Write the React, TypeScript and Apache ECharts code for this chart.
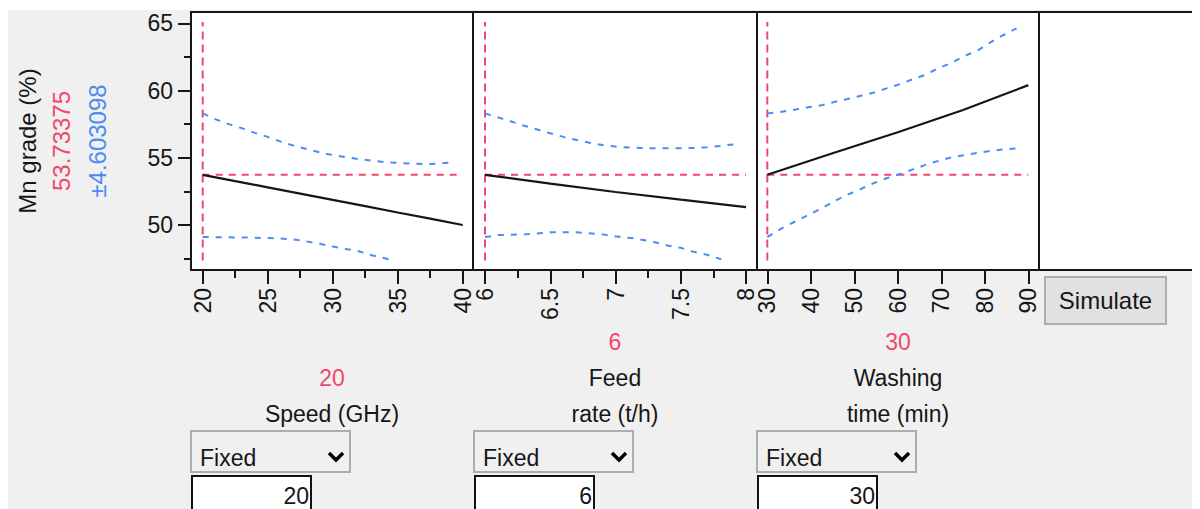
import React, { useEffect, useRef } from "react";
import * as echarts from "echarts";

const FONT = "'Liberation Sans', Arial, sans-serif";
const RED = "#f2476b";
const BLUE = "#4b8bf5";
const INK = "#161616";

// ---- texts ----
const yTitle = "Mn grade (%)";
const predictedText = "53.73375";
const ciText = "±4.603098";
const predicted = 53.73375;
const factorNames = [["Speed (GHz)"], ["Feed", "rate (t/h)"], ["Washing", "time (min)"]];
const currentValues = [20, 6, 30];
const modeLabel = "Fixed";
const buttonLabel = "Simulate";

// ---- y axis ticks ----
const yMajorTicks = [50, 55, 60, 65];
const yMinorTicks = [47.5, 52.5, 57.5, 62.5];

// ---- x axis ticks ----
const speedMajor = [20, 25, 30, 35, 40];
const speedMinor = [22.5, 27.5, 32.5, 37.5];
const feedMajor = [6, 6.5, 7, 7.5, 8];
const feedMinor = [6.25, 6.75, 7.25, 7.75];
const washMajor = [30, 40, 50, 60, 70, 80, 90];
const washMinor: number[] = [];

// ---- Speed profile ----
const speedX = [20, 22.5, 25, 27.5, 30, 32.5, 35, 37.5, 40];
const speedMean = [53.73, 53.26, 52.8, 52.33, 51.86, 51.4, 50.93, 50.47, 50.0];
const speedUpperX = [20, 21, 22, 23, 24, 25, 26, 27, 28, 29, 30, 31, 32, 33, 34, 35, 36, 37, 38, 39.3];
const speedUpper = [58.3, 57.85, 57.5, 57.2, 56.85, 56.55, 56.2, 55.9, 55.65, 55.4, 55.2, 55.05, 54.9, 54.78, 54.68, 54.62, 54.57, 54.53, 54.55, 54.65];
const speedLowerX = [20, 22, 24, 26, 27, 28, 29, 30, 31, 32, 33, 34.3];
const speedLower = [49.1, 49.08, 49.05, 49.0, 48.92, 48.78, 48.6, 48.4, 48.22, 48.05, 47.75, 47.45];

// ---- Feed rate profile ----
const feedX = [6, 6.5, 7, 7.5, 8];
const feedMean = [53.73, 53.08, 52.45, 51.88, 51.32];
const feedUpperX = [6, 6.1, 6.2, 6.3, 6.4, 6.5, 6.6, 6.7, 6.8, 6.9, 7.0, 7.1, 7.2, 7.4, 7.6, 7.7, 7.8, 7.93];
const feedUpper = [58.3, 58.0, 57.7, 57.38, 57.1, 56.82, 56.55, 56.32, 56.12, 55.95, 55.83, 55.76, 55.72, 55.7, 55.72, 55.78, 55.88, 56.02];
const feedLowerX = [6, 6.1, 6.3, 6.5, 6.7, 6.9, 7.05, 7.15, 7.2, 7.3, 7.4, 7.5, 7.6, 7.7, 7.81];
const feedLower = [49.1, 49.25, 49.3, 49.45, 49.46, 49.3, 49.08, 49.0, 48.9, 48.72, 48.47, 48.3, 48.0, 47.78, 47.45];

// ---- Washing time profile ----
const washX = [30, 45, 60, 75, 90];
const washMean = [53.73, 55.33, 56.9, 58.55, 60.4];
const washUpperX = [30, 33.3, 36.7, 39.4, 42.5, 45.6, 48.2, 51.3, 54.4, 57.4, 60.5, 63.6, 66.2, 69.3, 72.4, 75.4, 78.5, 81.2, 84.3, 87.3];
const washUpper = [58.3, 58.42, 58.6, 58.75, 58.9, 59.17, 59.35, 59.59, 59.84, 60.16, 60.48, 60.86, 61.15, 61.65, 62.07, 62.57, 63.01, 63.56, 64.13, 64.63];
const washLowerX = [30, 33.3, 36.3, 39.4, 42.5, 45.6, 48.2, 51.3, 54.4, 57.4, 60.5, 63.6, 66.6, 69.7, 72.4, 75.4, 78.5, 81.5, 84.3, 87.3];
const washLower = [49.1, 49.75, 50.24, 50.74, 51.24, 51.8, 52.22, 52.65, 53.1, 53.47, 53.79, 54.14, 54.5, 54.8, 55.03, 55.2, 55.37, 55.52, 55.62, 55.7];

// reference line vertical extent
const refLow = 47.35;
const refHigh = 65.1;

const zip = (xs: number[], ys: number[]) => xs.map((x, i) => [x, ys[i]]);

export default function App() {
  const ref = useRef<HTMLDivElement>(null);

  useEffect(() => {
    if (!ref.current) return;
    const chart = echarts.init(ref.current, undefined, { renderer: "svg" });

    const panels = [
      { left: 183, width: 282, min: 19.1, max: 40.79, major: speedMajor, minor: speedMinor,
        x: speedX, mean: speedMean, ux: speedUpperX, up: speedUpper, lx: speedLowerX, lo: speedLower },
      { left: 465, width: 284, min: 5.908, max: 8.084, major: feedMajor, minor: feedMinor,
        x: feedX, mean: feedMean, ux: feedUpperX, up: feedUpper, lx: feedLowerX, lo: feedLower },
      { left: 749, width: 282, min: 27.63, max: 92.46, major: washMajor, minor: washMinor,
        x: washX, mean: washMean, ux: washUpperX, up: washUpper, lx: washLowerX, lo: washLower },
    ];
    const yMin = 46.65;
    const yMax = 65.84;

    const grids = panels.map((p) => ({
      left: p.left, top: 4, width: p.width, height: 258,
      show: true, backgroundColor: "#ffffff", borderColor: INK, borderWidth: 2,
    }));

    const xAxes: any[] = [];
    const mainX: number[] = [];
    panels.forEach((p, i) => {
      mainX.push(xAxes.length);
      xAxes.push({
        type: "value", gridIndex: i, min: p.min, max: p.max, position: "bottom",
        axisLine: { show: true, lineStyle: { color: INK, width: 2 } },
        axisTick: { show: true, length: 14, customValues: p.major, lineStyle: { color: INK, width: 2 } },
        axisLabel: {
          show: true, customValues: p.major, rotate: 90, margin: 18,
          fontSize: 23, fontFamily: FONT, color: INK, formatter: (v: number) => String(v),
        },
        splitLine: { show: false },
      });
      if (p.minor.length) {
        xAxes.push({
          type: "value", gridIndex: i, min: p.min, max: p.max, position: "bottom",
          axisLine: { show: false },
          axisTick: { show: true, length: 8, customValues: p.minor, lineStyle: { color: INK, width: 2 } },
          axisLabel: { show: false },
          splitLine: { show: false },
        });
      }
    });

    const yAxes: any[] = panels.map((p, i) => ({
      type: "value", gridIndex: i, min: yMin, max: yMax, position: "left",
      axisLine: { show: i === 0, lineStyle: { color: INK, width: 2 } },
      axisTick: { show: i === 0, length: 13, customValues: yMajorTicks, lineStyle: { color: INK, width: 2 } },
      axisLabel: {
        show: i === 0, customValues: yMajorTicks, margin: 18,
        fontSize: 23, fontFamily: FONT, color: INK,
      },
      splitLine: { show: false },
    }));
    yAxes.push({
      type: "value", gridIndex: 0, min: yMin, max: yMax, position: "left",
      axisLine: { show: false },
      axisTick: { show: true, length: 7, customValues: yMinorTicks, lineStyle: { color: INK, width: 2 } },
      axisLabel: { show: false },
      splitLine: { show: false },
    });

    const series: any[] = [];
    panels.forEach((p, i) => {
      const base = { type: "line", xAxisIndex: mainX[i], yAxisIndex: i, symbol: "none", silent: true };
      const x0 = currentValues[i];
      const xEnd = p.major[p.major.length - 1];
      series.push({ ...base, data: [[x0, predicted], [xEnd, predicted]],
        lineStyle: { color: RED, width: 2, type: [7, 6] } });
      series.push({ ...base, data: [[x0, refLow], [x0, refHigh]],
        lineStyle: { color: RED, width: 2, type: [8, 5] } });
      series.push({ ...base, data: zip(p.ux, p.up), lineStyle: { color: BLUE, width: 2, type: [6, 7] } });
      series.push({ ...base, data: zip(p.lx, p.lo), lineStyle: { color: BLUE, width: 2, type: [6, 7] } });
      series.push({ ...base, data: zip(p.x, p.mean), lineStyle: { color: INK, width: 2.2 } });
    });

    const txt = (text: string, x: number, y: number, fill: string, extra: any = {}, size = 23) => ({
      type: "text", x, y, silent: true, ...extra,
      style: { text, fill, fontSize: size, fontFamily: FONT, align: extra.align || "center", verticalAlign: "middle" },
    });

    const graphics: any[] = [
      { type: "rect", shape: { x: 0, y: 0, width: 1192, height: 2 }, style: { fill: "#ffffff" }, silent: true },
      // empty fourth panel
      { type: "rect", shape: { x: 1031, y: 4, width: 159, height: 258 },
        style: { fill: "#ffffff", stroke: INK, lineWidth: 2 }, silent: true },
      // y title block
      txt(yTitle, 19.5, 133, INK, { rotation: Math.PI / 2 }, 24),
      txt(predictedText, 53, 133, RED, { rotation: Math.PI / 2 }, 24),
      txt(ciText, 89.5, 133, BLUE, { rotation: Math.PI / 2 }, 24),
      // Simulate button
      { type: "rect", shape: { x: 1037, y: 269, width: 121, height: 47 },
        style: { fill: "#e1e1e1", stroke: "#adadad", lineWidth: 2 }, silent: true },
      txt(buttonLabel, 1097.5, 292.5, INK, {}, 24),
    ];

    const centers = [324, 607, 890];
    const boxLefts = [183, 466, 749];
    panels.forEach((_, i) => {
      const cx = centers[i];
      const lines = factorNames[i];
      lines.forEach((ln, j) => {
        graphics.push(txt(ln, cx, 406 - (lines.length - 1 - j) * 36, INK));
      });
      graphics.push(txt(String(currentValues[i]), cx, 406 - lines.length * 36, RED));
      const bx = boxLefts[i];
      graphics.push({ type: "rect", shape: { x: bx, y: 423, width: 159, height: 41 },
        style: { fill: "#f0f0f0", stroke: "#adadad", lineWidth: 2 }, silent: true });
      graphics.push(txt(modeLabel, bx + 9, 449.5, INK, { align: "left" }));
      graphics.push({ type: "polyline", shape: { points: [[bx + 138, 445], [bx + 145, 452], [bx + 152, 445]] },
        style: { stroke: "#000", lineWidth: 3.5, fill: null }, silent: true });
      graphics.push({ type: "rect", shape: { x: bx + 1, y: 468, width: 119, height: 40 },
        style: { fill: "#ffffff", stroke: "#111", lineWidth: 2 }, silent: true });
      graphics.push(txt(String(currentValues[i]), bx + 118, 487.5, INK, { align: "right" }));
    });

    chart.setOption({
      animation: false,
      backgroundColor: "#f0f0f0",
      grid: grids,
      xAxis: xAxes,
      yAxis: yAxes,
      series,
      graphic: graphics,
    });

    return () => chart.dispose();
  }, []);

  return <div ref={ref} style={{ width: 1192, height: 501 }} />;
}
